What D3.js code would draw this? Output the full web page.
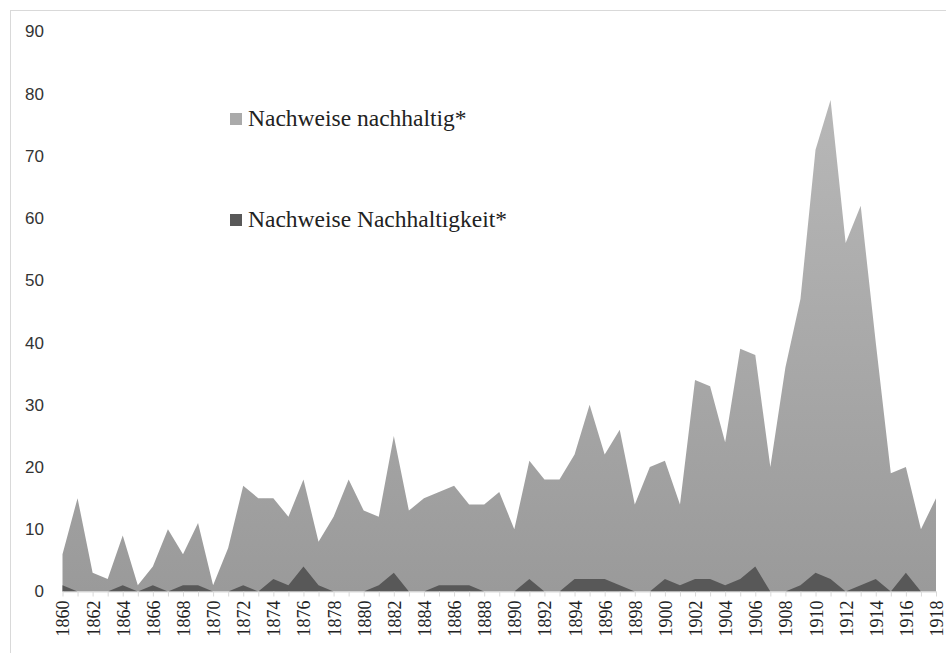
<!DOCTYPE html>
<html>
<head>
<meta charset="utf-8">
<script src="https://cdn.jsdelivr.net/npm/d3@7"></script>
<style>
  body { margin: 0; background: #fff; }
  svg { display: block; }
</style>
</head>
<body>
<div id="chart"></div>
<script>
var years = d3.range(1860, 1919);
// Nachweise nachhaltig*
var nachhaltig = [6, 15, 3, 2, 9, 1, 4, 10, 6, 11,
                  1, 7, 17, 15, 15, 12, 18, 8, 12, 18,
                  13, 12, 25, 13, 15, 16, 17, 14, 14, 16,
                  10, 21, 18, 18, 22, 30, 22, 26, 14, 20,
                  21, 14, 34, 33, 24, 39, 38, 20, 36, 47,
                  71, 79, 56, 62, 40, 19, 20, 10, 15];
// Nachweise Nachhaltigkeit*
var nachhaltigkeit = [1, 0, 0, 0, 1, 0, 1, 0, 1, 1,
                      0, 0, 1, 0, 2, 1, 4, 1, 0, 0,
                      0, 1, 3, 0, 0, 1, 1, 1, 0, 0,
                      0, 2, 0, 0, 2, 2, 2, 1, 0, 0,
                      2, 1, 2, 2, 1, 2, 4, 0, 0, 1,
                      3, 2, 0, 1, 2, 0, 3, 0, 0];
var yTicks = [0, 10, 20, 30, 40, 50, 60, 70, 80, 90];
var seriesNames = ["Nachweise nachhaltig*", "Nachweise Nachhaltigkeit*"];

var width = 946, height = 653;

var svg = d3.select("#chart").append("svg")
    .attr("width", width)
    .attr("height", height);

// outer frame
svg.append("rect")
    .attr("x", 10.5)
    .attr("y", 10.5)
    .attr("width", width)
    .attr("height", height)
    .attr("fill", "none")
    .attr("stroke", "#d9d9d9");

var x = d3.scaleLinear().domain([1860, 1918]).range([62.5, 936]);
var y = d3.scaleLinear().domain([0, 90]).range([591.5, 31.5]);

var defs = svg.append("defs");
var grad = defs.append("linearGradient")
    .attr("id", "lightGrad")
    .attr("gradientUnits", "userSpaceOnUse")
    .attr("x1", 0).attr("x2", 0)
    .attr("y1", y(80)).attr("y2", y(0));
grad.append("stop").attr("offset", "0%").attr("stop-color", "#b8b8b8");
grad.append("stop").attr("offset", "100%").attr("stop-color", "#9a9a9a");

var area = d3.area()
    .x(function(d, i) { return x(years[i]); })
    .y0(y(0))
    .y1(function(d) { return y(d); });

svg.append("path")
    .datum(nachhaltig)
    .attr("d", area)
    .attr("fill", "url(#lightGrad)");

svg.append("path")
    .datum(nachhaltigkeit)
    .attr("d", area)
    .attr("fill", "#585858");

// x axis
var xAxis = svg.append("g")
    .attr("transform", "translate(0," + y(0) + ")")
    .call(d3.axisBottom(x)
        .tickValues(years)
        .tickSize(5)
        .tickSizeOuter(0)
        .tickFormat(function(d) { return d % 2 === 0 ? d : ""; }));
xAxis.select(".domain").attr("stroke", "#d9d9d9");
xAxis.selectAll(".tick line").attr("stroke", "#d9d9d9");
xAxis.selectAll(".tick text")
    .attr("transform", "rotate(-90)")
    .attr("x", -9)
    .attr("y", 0)
    .attr("dy", "0.36em")
    .attr("text-anchor", "end")
    .attr("fill", "#222")
    .style("font-family", "'Liberation Serif', 'Times New Roman', serif")
    .style("font-size", "18px");

// y labels
svg.append("g").selectAll("text")
    .data(yTicks)
    .enter().append("text")
    .attr("x", 44)
    .attr("y", function(d) { return y(d); })
    .attr("dy", "0.35em")
    .attr("text-anchor", "end")
    .attr("fill", "#333")
    .style("font-family", "'Liberation Sans', Arial, sans-serif")
    .style("font-size", "17px")
    .text(function(d) { return d; });

// legend
var legendColors = ["#aaaaaa", "#585858"];
var legendY = [126, 227];
for (var i = 0; i < seriesNames.length; i++) {
    svg.append("rect")
        .attr("x", 230)
        .attr("y", legendY[i] - 13)
        .attr("width", 12)
        .attr("height", 12)
        .attr("fill", legendColors[i]);
    svg.append("text")
        .attr("x", 248)
        .attr("y", legendY[i])
        .attr("fill", "#222")
        .style("font-family", "'Liberation Serif', 'Times New Roman', serif")
        .style("font-size", "23.5px")
        .text(seriesNames[i]);
}
</script>
</body>
</html>
